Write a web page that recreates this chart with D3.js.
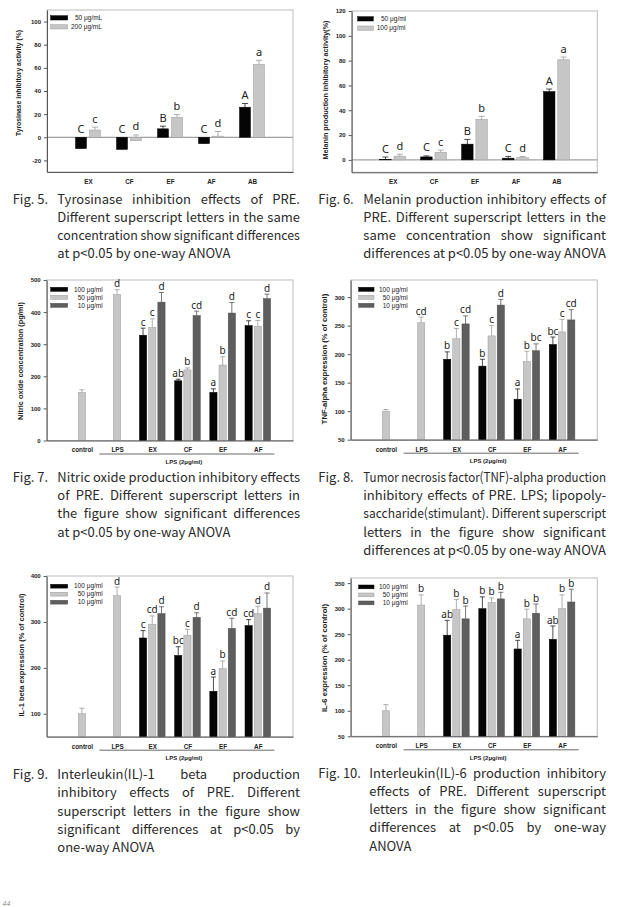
<!DOCTYPE html>
<html><head><meta charset="utf-8">
<script src="https://cdn.jsdelivr.net/npm/d3@7/dist/d3.min.js"></script>
<style>body{margin:0;background:#fff;} svg{display:block;}</style>
</head><body>
<svg id="page" width="619" height="907"></svg>
<script>
// ---------------- DATA ----------------
// Fig. 5 Tyrosinase
const fig5Categories = ["EX","CF","EF","AF","AB"];
const fig5Legend = ["50 μg/mL","200 μg/mL"];
const fig5YTicks = [-20,0,20,40,60,80,100];
const fig5Low = [-9.8,-10.5,7.3,-5.5,26];
const fig5LowErr = [1.5,1.5,2.3,1.2,3.2];
const fig5LowLetters = ["C","C","B","C","A"];
const fig5High = [6.3,-3,17.3,1,63];
const fig5HighErr = [2.5,5,2.3,4,3.5];
const fig5HighLetters = ["c","d","b","d","a"];

// Fig. 6 Melanin
const fig6Categories = ["EX","CF","EF","AF","AB"];
const fig6Legend = ["50 μg/ml","100 μg/ml"];
const fig6YTicks = [0,20,40,60,80,100,120];
const fig6Low = [0.3,2.4,12.7,1.4,55.1];
const fig6LowErr = [2,0.8,3.8,1.4,2];
const fig6LowLetters = ["C","C","B","C","A"];
const fig6High = [3,6.2,32.7,1.9,80.7];
const fig6HighErr = [1.5,1.7,2.4,0.8,2.2];
const fig6HighLetters = ["d","c","b","d","a"];

// Fig. 7-10 common
const lpsCategories = ["control","LPS","EX","CF","EF","AF"];
const lpsLegend = ["100 μg/ml","50 μg/ml","10 μg/ml"];
const lpsGroupLabel = "LPS (2μg/ml)";

// Fig. 7 Nitric oxide
const fig7YTicks = [0,100,200,300,400,500];
const fig7S100 = [null,null,328,186,150,358];
const fig7S100Err = [null,null,22,5,11,15];
const fig7S100Letters = [null,null,"c","ab","a","c"];
const fig7S50 = [150,455,352,220,235,356];
const fig7S50Err = [8,15,27,6,26,18];
const fig7S50Letters = [null,"d","c","b","b","c"];
const fig7S10 = [null,null,431,389,397,442];
const fig7S10Err = [null,null,30,14,33,14];
const fig7S10Letters = [null,null,"d","cd","d","d"];

// Fig. 8 TNF-alpha
const fig8YTicks = [50,100,150,200,250,300];
const fig8S100 = [null,null,191,179,121,217];
const fig8S100Err = [null,null,13,12,18,13];
const fig8S100Letters = [null,null,"b","b","a","bc"];
const fig8S50 = [100,255,227,232,187,239];
const fig8S50Err = [3,10,18,18,18,22];
const fig8S50Letters = [null,"cd","c","c","b","c"];
const fig8S10 = [null,null,253,286,206,260];
const fig8S10Err = [null,null,14,10,12,18];
const fig8S10Letters = [null,null,"cd","d","bc","cd"];

// Fig. 9 IL-1 beta
const fig9YTicks = [100,200,300,400];
const fig9S100 = [null,null,265,227,149,292];
const fig9S100Err = [null,null,16,19,31,13];
const fig9S100Letters = [null,null,"c","bc","a","cd"];
const fig9S50 = [100,357,295,271,198,318];
const fig9S50Err = [12,19,18,13,17,16];
const fig9S50Letters = [null,"d","cd","c","b","d"];
const fig9S10 = [null,null,318,310,286,330];
const fig9S10Err = [null,null,15,10,22,33];
const fig9S10Letters = [null,null,"d","d","cd","d"];

// Fig. 10 IL-6
const fig10YTicks = [50,100,150,200,250,300,350];
const fig10S100 = [null,null,248,300,221,240];
const fig10S100Err = [null,null,29,23,17,26];
const fig10S100Letters = [null,null,"ab","b","a","ab"];
const fig10S50 = [100,307,298,312,280,300];
const fig10S50Err = [12,20,20,9,19,27];
const fig10S50Letters = [null,"b","b","b","b","b"];
const fig10S10 = [null,null,280,319,291,313];
const fig10S10Err = [null,null,25,13,18,25];
const fig10S10Letters = [null,null,"b","b","b","b"];

// Captions
const fig5Caption = ["Tyrosinase inhibition effects of PRE.","Different superscript letters in the same","concentration show significant differences","at p<0.05 by one-way ANOVA"];
const fig6Caption = ["Melanin production inhibitory effects of","PRE. Different superscript letters in the","same concentration show significant","differences at p<0.05 by one-way ANOVA"];
const fig7Caption = ["Nitric oxide production inhibitory effects","of PRE. Different superscript letters in","the figure show significant differences","at p<0.05 by one-way ANOVA"];
const fig8Caption = ["Tumor necrosis factor(TNF)-alpha production","inhibitory effects of PRE. LPS; lipopoly-","saccharide(stimulant). Different superscript","letters in the figure show significant","differences at p<0.05 by one-way ANOVA"];
const fig9Caption = ["Interleukin(IL)-1 beta production","inhibitory effects of PRE. Different","superscript letters in the figure show","significant differences at p<0.05 by","one-way ANOVA"];
const fig10Caption = ["Interleukin(IL)-6 production inhibitory","effects of PRE. Different superscript","letters in the figure show significant","differences at p<0.05 by one-way","ANOVA"];

// ---------------- STYLE ----------------
const AXIS_FONT = "'Liberation Sans', Arial, sans-serif";
const LETTER_FONT = "'Noto Sans', 'Open Sans', sans-serif";
const CAPTION_FONT = "'Noto Sans CJK KR', 'Noto Sans', sans-serif";
const C_BLACK = {fill:"#050505", stroke:"#000", err:"#222"};
const C_GRAY = {fill:"#c6c6c6", stroke:"#9a9a9a", err:"#9a9a9a"};
const C_DARK = {fill:"#5e5e5e", stroke:"#4a4a4a", err:"#555"};

const svg = d3.select("#page");
svg.append("rect").attr("width",619).attr("height",907).attr("fill","#fff");

function drawChart(c){
  const f = c.frame;
  const x = d3.scalePoint().domain(c.categories).range([f.left,f.right]).padding(1);
  const y = d3.scaleLinear().domain(c.yDomain).range([f.bottom,f.top]);
  const g = svg.append("g");
  g.append("rect").attr("x",f.left).attr("y",f.top).attr("width",f.right-f.left).attr("height",f.bottom-f.top)
    .attr("fill","none").attr("stroke","#bcbcbc").attr("stroke-width",1);
  if(c.zeroLine){
    g.append("line").attr("x1",f.left).attr("x2",f.right).attr("y1",y(0)).attr("y2",y(0))
      .attr("stroke","#8a8a8a").attr("stroke-width",1);
  }
  const n = c.series.length;
  c.series.forEach((s,si)=>{
    const off = (si-(n-1)/2)*c.barStep;
    s.values.forEach((v,ci)=>{
      if(v==null) return;
      const cx = x(c.categories[ci]) + off;
      const y0 = y(c.base), y1 = y(v);
      const e = s.errors[ci];
      if(e){
        const ye = y(v+e);
        g.append("line").attr("x1",cx).attr("x2",cx).attr("y1",y1).attr("y2",ye).attr("stroke",s.style.err).attr("stroke-width",0.8);
        g.append("line").attr("x1",cx-c.errCap/2).attr("x2",cx+c.errCap/2).attr("y1",ye).attr("y2",ye).attr("stroke",s.style.err).attr("stroke-width",0.8);
      }
      g.append("rect").attr("x",cx-c.barWidth/2).attr("y",Math.min(y0,y1)).attr("width",c.barWidth)
        .attr("height",Math.abs(y1-y0)).attr("fill",s.style.fill).attr("stroke",s.style.stroke).attr("stroke-width",0.5);
      const L = s.letters[ci];
      if(L){
        const top = Math.max(v+(e||0), c.zeroLine?0:c.base);
        g.append("text").attr("x",cx).attr("y",y(top)-c.letterGap).attr("text-anchor","middle")
          .attr("font-family",LETTER_FONT).attr("font-size",c.letterSize).attr("fill","#222").text(L);
      }
    });
  });
  // y axis
  const yg = g.append("g").attr("transform",`translate(${f.left},0)`)
    .call(d3.axisLeft(y).tickValues(c.yTicks).tickSize(3).tickSizeOuter(0).tickPadding(3).tickFormat(d=>String(d)));
  yg.attr("font-family",AXIS_FONT).attr("font-size",6).attr("font-weight","bold");
  yg.select(".domain").attr("stroke","#555");
  yg.selectAll(".tick line").attr("stroke","#555");
  yg.selectAll(".tick text").attr("fill","#222");
  // x axis
  const xg = g.append("g").attr("transform",`translate(0,${f.bottom})`)
    .call(d3.axisBottom(x).tickSize(0).tickSizeOuter(0).tickPadding(7.5));
  xg.attr("font-family",AXIS_FONT).attr("font-size",6.3).attr("font-weight","bold");
  xg.select(".domain").attr("stroke","#555");
  xg.selectAll(".tick text").attr("fill","#222");
  // group line
  if(c.groupLabel){
    const st = x.step();
    const x1 = x(c.categories[1]) - st/2, x2 = x(c.categories[c.categories.length-1]) + st/2 - 1;
    g.append("line").attr("x1",x1).attr("x2",x2).attr("y1",f.bottom+13.5).attr("y2",f.bottom+13.5)
      .attr("stroke","#444").attr("stroke-width",0.8);
    g.append("text").attr("x",(x1+x2)/2-3).attr("y",f.bottom+23.5).attr("text-anchor","middle")
      .attr("font-family",AXIS_FONT).attr("font-size",6).attr("font-weight","bold").attr("fill","#222").text(c.groupLabel);
  }
  // y title
  g.append("text").attr("transform",`translate(${c.yTitle.x},${c.yTitle.y}) rotate(-90)`)
    .attr("text-anchor","middle").attr("dy","0.35em").attr("font-family",AXIS_FONT).attr("font-size",c.yTitle.size)
    .attr("font-weight","bold").attr("fill","#222").text(c.yTitle.text);
  // legend
  const lg = c.legend;
  c.series.forEach((s,si)=>{
    const ry = lg.y + si*lg.dy;
    g.append("rect").attr("x",lg.x).attr("y",ry).attr("width",lg.w).attr("height",lg.h)
      .attr("fill",s.style.fill).attr("stroke",s.style.stroke).attr("stroke-width",0.5);
    const t = g.append("text").attr("y",ry+lg.h/2).attr("dy","0.35em")
      .attr("font-family",AXIS_FONT).attr("font-size",6.5).attr("fill","#222").text(c.legendLabels[si]);
    if(lg.textEnd) t.attr("x",lg.textEnd).attr("text-anchor","end");
    else t.attr("x",lg.textX[si]);
  });
}

function mk(values, errors, letters, style){ return {values, errors, letters, style}; }

drawChart({categories:fig5Categories, frame:{left:47,right:293,top:10,bottom:172}, yDomain:[-30,110], yTicks:fig5YTicks,
  base:0, zeroLine:true, barWidth:11, barStep:14, errCap:6, letterSize:11, letterGap:4.5,
  series:[mk(fig5Low,fig5LowErr,fig5LowLetters,C_BLACK), mk(fig5High,fig5HighErr,fig5HighLetters,C_GRAY)],
  legendLabels:fig5Legend, legend:{x:50.7,y:15.7,w:17,h:4.3,dy:9,textX:[75,71]},
  yTitle:{x:19,y:83,size:6.8,text:"Tyrosinase inhibitory activity (%)"}});

drawChart({categories:fig6Categories, frame:{left:351.7,right:597.3,top:11,bottom:172.3}, yDomain:[-10,120], yTicks:fig6YTicks,
  base:0, zeroLine:true, barWidth:11.5, barStep:14.3, errCap:6, letterSize:11, letterGap:4.5,
  series:[mk(fig6Low,fig6LowErr,fig6LowLetters,C_BLACK), mk(fig6High,fig6HighErr,fig6HighLetters,C_GRAY)],
  legendLabels:fig6Legend, legend:{x:357.7,y:16.7,w:15.6,h:4.3,dy:9.3,textX:[381,376.7]},
  yTitle:{x:325,y:90,size:7.2,text:"Melanin production inhibitory activity(%)"}});

drawChart({categories:lpsCategories, frame:{left:46.7,right:293,top:280,bottom:440.5}, yDomain:[0,500], yTicks:fig7YTicks,
  base:0, zeroLine:false, barWidth:7.2, barStep:9.2, errCap:5, letterSize:10, letterGap:2.5, groupLabel:lpsGroupLabel,
  series:[mk(fig7S100,fig7S100Err,fig7S100Letters,C_BLACK), mk(fig7S50,fig7S50Err,fig7S50Letters,C_GRAY), mk(fig7S10,fig7S10Err,fig7S10Letters,C_DARK)],
  legendLabels:lpsLegend, legend:{x:50.7,y:287.3,w:17,h:4,dy:8,textEnd:102.7},
  yTitle:{x:20,y:361,size:7.4,text:"Nitric oxide concentration (pg/ml)"}});

drawChart({categories:lpsCategories, frame:{left:350.7,right:597.3,top:280,bottom:439.7}, yDomain:[50,330], yTicks:fig8YTicks,
  base:50, zeroLine:false, barWidth:7.2, barStep:9.2, errCap:5, letterSize:10, letterGap:2.5, groupLabel:lpsGroupLabel,
  series:[mk(fig8S100,fig8S100Err,fig8S100Letters,C_BLACK), mk(fig8S50,fig8S50Err,fig8S50Letters,C_GRAY), mk(fig8S10,fig8S10Err,fig8S10Letters,C_DARK)],
  legendLabels:lpsLegend, legend:{x:358.7,y:287.3,w:15.3,h:4,dy:8,textEnd:407.7},
  yTitle:{x:324.5,y:359,size:7.6,text:"TNF-alpha expression (% of control)"}});

drawChart({categories:lpsCategories, frame:{left:46.7,right:293,top:576,bottom:736.7}, yDomain:[50,400], yTicks:fig9YTicks,
  base:50, zeroLine:false, barWidth:7.2, barStep:9.2, errCap:5, letterSize:10, letterGap:2.5, groupLabel:lpsGroupLabel,
  series:[mk(fig9S100,fig9S100Err,fig9S100Letters,C_BLACK), mk(fig9S50,fig9S50Err,fig9S50Letters,C_GRAY), mk(fig9S10,fig9S10Err,fig9S10Letters,C_DARK)],
  legendLabels:lpsLegend, legend:{x:50.7,y:584.3,w:17,h:3.8,dy:8,textEnd:102.7},
  yTitle:{x:21,y:655,size:7.5,text:"IL-1 beta expression (% of control)"}});

drawChart({categories:lpsCategories, frame:{left:350.7,right:597.3,top:578,bottom:736.3}, yDomain:[50,360], yTicks:fig10YTicks,
  base:50, zeroLine:false, barWidth:7.2, barStep:9.2, errCap:5, letterSize:10, letterGap:2.5, groupLabel:lpsGroupLabel,
  series:[mk(fig10S100,fig10S100Err,fig10S100Letters,C_BLACK), mk(fig10S50,fig10S50Err,fig10S50Letters,C_GRAY), mk(fig10S10,fig10S10Err,fig10S10Letters,C_DARK)],
  legendLabels:lpsLegend, legend:{x:358.7,y:585,w:15.3,h:3.8,dy:8,textEnd:407.7},
  yTitle:{x:324.5,y:658,size:7.7,text:"IL-6 expression (% of control)"}});

// ---------------- CAPTIONS ----------------
function drawCaption(c){
  const g = svg.append("g").attr("font-family",CAPTION_FONT).attr("font-size",c.size||13).attr("fill","#2a2a2a");
  g.append("text").attr("x",c.labelX).attr("y",c.baseline).text(c.label);
  const avail = c.right - c.indent;
  c.lines.forEach((line,i)=>{
    const yb = c.baseline + i*c.gap;
    const justify = i < c.lines.length-1;
    if(!justify){ g.append("text").attr("x",c.indent).attr("y",yb).text(line); return; }
    const words = line.split(" ");
    const lg = g.append("g").attr("transform",`translate(${c.indent},${yb})`);
    const nodes = words.map(w=>lg.append("text").attr("y",0).text(w));
    const widths = nodes.map(t=>t.node().getComputedTextLength());
    const total = d3.sum(widths);
    const nGaps = Math.max(1, words.length-1);
    let gap = (avail-total)/nGaps;
    const minGap = 2.6;
    let scale = 1;
    if(gap < minGap){ gap = minGap; scale = avail/(total+minGap*nGaps); }
    let xx = 0;
    nodes.forEach((t,k)=>{ t.attr("x",xx); xx += widths[k]+gap; });
    if(scale !== 1) lg.attr("transform",`translate(${c.indent},${yb}) scale(${scale},1)`);
  });
}
drawCaption({label:"Fig. 5.", labelX:12.7, indent:57.3, right:300, baseline:204, gap:18, lines:fig5Caption});
drawCaption({label:"Fig. 6.", labelX:318.3, indent:363.3, right:606, baseline:204, gap:18, lines:fig6Caption});
drawCaption({label:"Fig. 7.", labelX:12.7, indent:57.3, right:300, baseline:482, gap:18.2, lines:fig7Caption});
drawCaption({label:"Fig. 8.", labelX:318.3, indent:363.3, right:606, baseline:481.5, gap:18.4, lines:fig8Caption});
drawCaption({label:"Fig. 9.", labelX:12.7, indent:57.3, right:300, baseline:779, gap:18.3, lines:fig9Caption});
drawCaption({label:"Fig. 10.", labelX:318.3, indent:369.3, right:606, baseline:777.5, gap:18.3, lines:fig10Caption});

svg.append("text").attr("x",2).attr("y",905.5).attr("font-family",CAPTION_FONT).attr("font-size",7)
  .attr("font-style","italic").attr("fill","#999").text("44");
</script>
</body></html>
